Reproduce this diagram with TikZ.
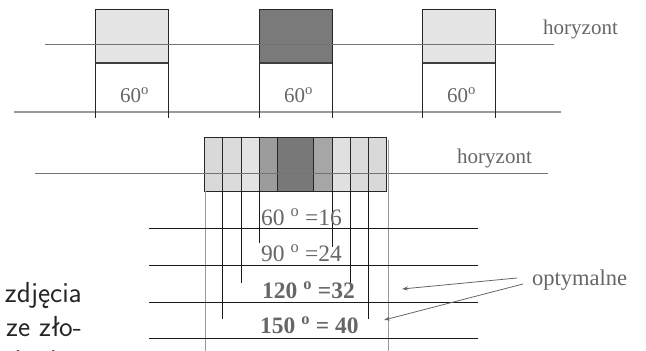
\documentclass[tikz,border=0pt]{standalone}
\usepackage{fontspec}
\setmainfont{Liberation Serif}
\usetikzlibrary{arrows.meta,positioning}

\begin{document}
\begin{tikzpicture}[x=1pt,y=-1pt,
    cell/.style={draw=black!85, line width=0.9pt},
    horiz/.style={draw=black!55, line width=0.9pt},
    ground/.style={draw=black!40, line width=1.2pt},
    guide/.style={draw=black!40, line width=0.9pt},
    drop/.style={draw=black!90, line width=1pt},
    row/.style={draw=black!90, line width=0.9pt},
    pointer/.style={-{Stealth[length=6pt,width=4pt]}, draw=black!60, line width=0.8pt},
    every node/.style={inner sep=0pt, text=black!60},
    lbl/.style={font=\fontsize{21}{24}\selectfont},
    val/.style={font=\fontsize{23.5}{26}\selectfont},
    side/.style={font=\fontsize{29}{34}\sffamily, text=black!85}
  ]
  \useasboundingbox (0,0) rectangle (646,351);

  % upper row: three separate frames
  \draw[ground] (14,112) -- (561,112);
  \foreach \x/\shade [count=\i] in {95/10, 259/52, 422/10} {
    \draw[cell, fill=black!\shade] (\x,9) rectangle +(73,54);
    \draw[black!75, line width=1.8pt] (\x,63) -- +(73,0);
    \draw[cell] (\x,63) -- (\x,118) (\x+73,63) -- (\x+73,118);
    \node[lbl, anchor=west] (deg\i) at (\x+25,95) {60\textsuperscript{o}};
  }
  \draw[horiz] (45,44) -- (554,44);
  \node[lbl, anchor=west] (hor1) at (543,29) {horyzont};

  % lower row: overlapping frames
  \foreach \xa/\xb/\shade in {204/222/15, 222/241/14, 241/259/11, 259/277/39,
      277/313/53, 313/332/35, 332/350/12, 350/368/14, 368/386/15}
    \draw[cell, fill=black!\shade] (\xa,137) rectangle (\xb,191);
  \draw[horiz] (35,173) -- (548,173);
  \node[lbl, anchor=west] (hor2) at (457,158) {horyzont};

  \draw[guide] (205,191) -- (205,351);
  \draw[guide] (388,140) -- (388,351);
  \foreach \x/\yend in {222/319, 241/283, 259/243, 332/247, 350/283, 368/319}
    \draw[drop] (\x,191) -- (\x,\yend);
  \foreach \y in {228,265,302,338}
    \draw[row] (149,\y) -- (478,\y);

  \node[val, anchor=west] (v60) at (261,217) {60 \textsuperscript{o} =16};
  \node[val, anchor=west] (v90) at (261,253) {90 \textsuperscript{o} =24};
  \node[val, anchor=west, font=\fontsize{23.5}{26}\bfseries] (v120) at (262,290) {120 \textsuperscript{o} =32};
  \node[val, anchor=west, font=\fontsize{23.5}{26}\bfseries] (v150) at (260,325) {150 \textsuperscript{o} = 40};

  \node[val, anchor=west, font=\fontsize{22.5}{26}\selectfont] (opt) at (532,280) {optymalne};
  \coordinate (tip1) at (402,289);
  \coordinate (tip2) at (384,320);
  \draw[pointer] ([xshift=-15pt,yshift=2pt]opt.west) -- (tip1);
  \draw[pointer] ([xshift=-9pt,yshift=-4pt]opt.west) -- (tip2);

  % cut-off page text on the left
  \node[side, anchor=base east] (txt1) at (82,302) {zdjęcia};
  \node[side, anchor=base east] (txt2) at (82,336) {ze zło-};
  \node[side, anchor=base west] (txt3) at (12,369) {żeniem};
\end{tikzpicture}
\end{document}
